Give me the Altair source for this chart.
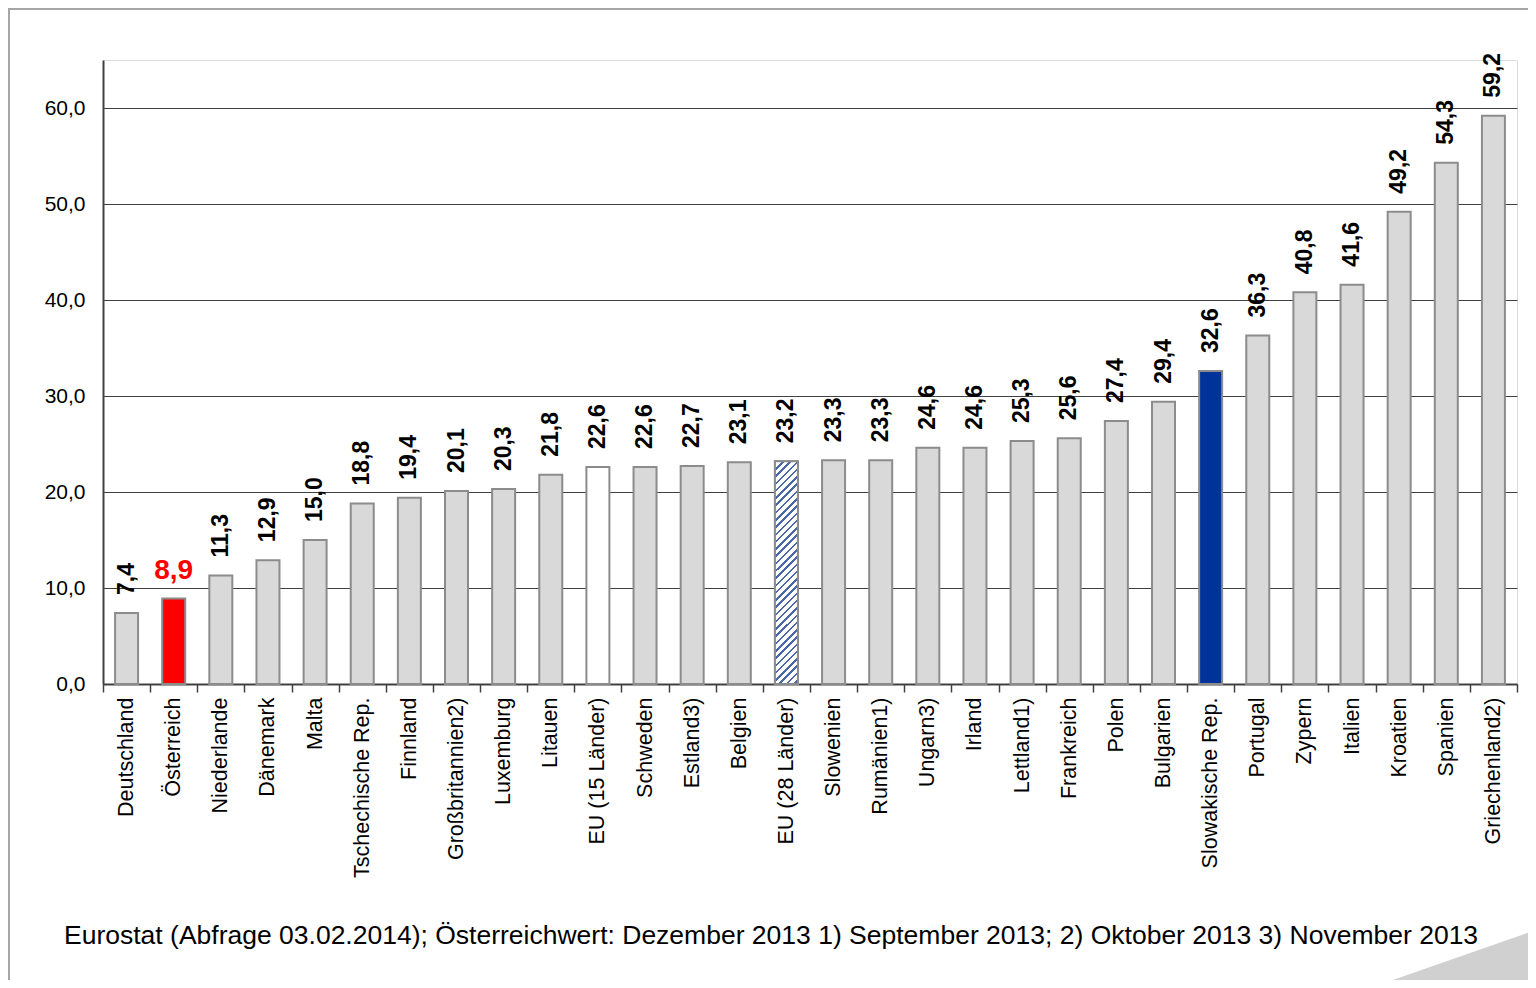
import altair as alt
import pandas as pd

laender = ["Deutschland", "Österreich", "Niederlande", "Dänemark", "Malta",
           "Tschechische Rep.", "Finnland", "Großbritannien2)", "Luxemburg", "Litauen",
           "EU (15 Länder)", "Schweden", "Estland3)", "Belgien", "EU (28 Länder)",
           "Slowenien", "Rumänien1)", "Ungarn3)", "Irland", "Lettland1)",
           "Frankreich", "Polen", "Bulgarien", "Slowakische Rep.", "Portugal",
           "Zypern", "Italien", "Kroatien", "Spanien", "Griechenland2)"]
werte = [7.4, 8.9, 11.3, 12.9, 15.0, 18.8, 19.4, 20.1, 20.3, 21.8,
         22.6, 22.6, 22.7, 23.1, 23.2, 23.3, 23.3, 24.6, 24.6, 25.3,
         25.6, 27.4, 29.4, 32.6, 36.3, 40.8, 41.6, 49.2, 54.3, 59.2]
y_ticks = [0, 10, 20, 30, 40, 50, 60]
fussnote = ("Eurostat (Abfrage 03.02.2014); Österreichwert: Dezember 2013 "
            "1) September 2013; 2) Oktober 2013 3) November 2013")

df = pd.DataFrame({"land": laender, "wert": werte})
df["label"] = [f"{v:.1f}".replace(".", ",") for v in werte]

FONT = "Liberation Sans"
W, H = 1414, 624

x_enc = alt.X("land:N", sort=laender, title=None,
              scale=alt.Scale(paddingInner=0, paddingOuter=0),
              axis=alt.Axis(labelAngle=270, labelAlign="right", labelBaseline="middle",
                            labelFont=FONT, labelFontSize=21.5, labelColor="#000000",
                            labelPadding=5, tickBand="extent", tickSize=8,
                            tickColor="#404040", tickWidth=1.5,
                            domainColor="#404040", domainWidth=2, labelLimit=300))
y_enc = alt.Y("wert:Q", title=None,
              scale=alt.Scale(domain=[0, 65], nice=False, zero=True),
              axis=alt.Axis(values=y_ticks,
                            labelExpr="replace(format(datum.value, '.1f'), '.', ',')",
                            labelFont=FONT, labelFontSize=21, labelColor="#000000",
                            labelPadding=18, ticks=False, grid=True,
                            gridColor="#404040", gridWidth=1,
                            domainColor="#404040", domainWidth=2))

base = alt.Chart(df)

fill_rule = (alt.when(alt.datum.land == "Österreich").then(alt.value("#ff0000"))
             .when(alt.datum.land == "Slowakische Rep.").then(alt.value("#003399"))
             .when(alt.datum.land == "EU (15 Länder)").then(alt.value("#ffffff"))
             .otherwise(alt.value("#d9d9d9")))

bars = base.mark_bar(size=23, stroke="#8c8c8c", strokeWidth=2).encode(
    x=x_enc, y=y_enc, fill=fill_rule)

# hatched bar (EU 28)
stops = []
n = 34
for i in range(n):
    a = i / n
    b = (i + 0.35) / n
    c = (i + 1) / n
    stops += [alt.GradientStop(color="#4a68a8", offset=a),
              alt.GradientStop(color="#4a68a8", offset=b),
              alt.GradientStop(color="#ffffff", offset=b),
              alt.GradientStop(color="#ffffff", offset=c)]
grad = alt.LinearGradient(gradient="linear", stops=stops,
                          x1=0, y1=0, x2=0.1135, y2=1.1)
hatched = base.transform_filter(alt.datum.land == "EU (28 Länder)").mark_bar(
    size=23, stroke="#8c8c8c", strokeWidth=2, fill=grad).encode(x=x_enc, y=y_enc)

labels = base.transform_filter(alt.datum.land != "Österreich").mark_text(
    angle=270, align="left", baseline="middle", dx=18, font=FONT,
    fontSize=23, fontWeight="bold", color="#000000").encode(
    x=x_enc, y=y_enc, text="label:N")

red_label = base.transform_filter(alt.datum.land == "Österreich").mark_text(
    align="center", baseline="alphabetic", dy=-20, font=FONT,
    fontSize=28, fontWeight="bold", color="#ff0000").encode(
    x=x_enc, y=y_enc, text="label:N")

deko = alt.Chart(alt.Data(values=[{"t": fussnote}]))

foot = deko.mark_text(align="left", baseline="middle", font=FONT, fontSize=26.5,
                      color="#000000").encode(
    x=alt.value(-39), y=alt.value(876), text="t:N")

frame = deko.mark_rect(fillOpacity=0, stroke="#a6a6a6", strokeWidth=2).encode(
    x=alt.value(-94), x2=alt.value(1700), y=alt.value(-51), y2=alt.value(1100))

tri = deko.mark_point(shape="M -1 1 L 1 1 L 1 0.3 Z", filled=True, fill="#d0d0d0",
                      strokeWidth=0, size=27556, opacity=1).encode(
    x=alt.value(1350), y=alt.value(845))

chart = alt.layer(frame, tri, bars, hatched, labels, red_label, foot).properties(
    width=W, height=H,
    autosize=alt.AutoSizeParams(type="none"),
    padding={"left": 95, "top": 52, "right": 11, "bottom": 296},
).configure_view(stroke="#404040", strokeWidth=2).configure(background="#ffffff")

chart.save("out.html", embed_options={"renderer": "svg", "actions": False})
